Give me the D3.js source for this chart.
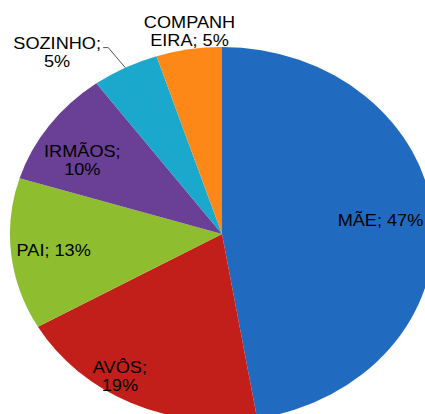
<!DOCTYPE html>
<meta charset="utf-8">
<script src="https://d3js.org/d3.v7.min.js"></script>
<style>
  body { margin: 0; background: #fff; }
  text { font-family: "Liberation Sans", Arial, sans-serif; font-size: 16px; fill: #000; }
</style>
<div id="chart"></div>
<script>
// slices, clockwise from 12 o'clock
var categories = ["MÃE", "AVÔS", "PAI", "IRMÃOS", "SOZINHO", "COMPANHEIRA"];
var values     = [47.4, 19.4, 13.1, 10.1, 5.1, 5.0];
var colors     = ["#206ac0", "#c21f1a", "#8ebe30", "#6a4096", "#1aa8cc", "#fd8817"];
// where each label wraps (character index, 0 = one line)
var wrapAt     = [0, 5, 0, 7, 8, 7];

var width = 425, height = 414;
var cx = 222, cy = 234;
var R = 187, stretch = 1.134;   // chart is drawn a bit wider than tall

var svg = d3.select("#chart").append("svg")
    .attr("width", width)
    .attr("height", height);

var g = svg.append("g")
    .attr("transform", "translate(" + cx + "," + cy + ") scale(" + stretch + ",1)");

var total = d3.sum(values);
var data = categories.map(function(c, i) {
  return { name: c, value: values[i], color: colors[i], wrap: wrapAt[i] };
});

var pie = d3.pie().sort(null).value(function(d) { return d.value; });
var arcs = pie(data);

var arc = d3.arc().innerRadius(0).outerRadius(R);

g.selectAll("path.slice")
  .data(arcs)
  .enter()
  .append("path")
    .attr("class", "slice")
    .attr("d", arc)
    .attr("fill", function(d) { return d.data.color; });

// labels: inside ones sit at 0.75R, the two small ones outside the pie
var inside = [true, true, true, true, false, false];
var nudge = [[0, -2], [-30, 15], [-9, 1], [-9, 7], [-50, 4], [4, 3]];

function midAngle(d) { return (d.startAngle + d.endAngle) / 2; }
function polar(a, r) { return [Math.sin(a) * r, -Math.cos(a) * r]; }

arcs.forEach(function(d, i) {
  var a = midAngle(d);
  var r = inside[i] ? R * 0.75 : R + 22;
  var p = polar(a, r);
  var x = p[0] + nudge[i][0], y = p[1] + nudge[i][1];

  var full = d.data.name + "; " + Math.round(d.data.value / total * 100) + "%";
  var lines = d.data.wrap ? [full.slice(0, d.data.wrap), full.slice(d.data.wrap).trim()] : [full];

  var t = g.append("text")
    .attr("text-anchor", "middle")
    .attr("x", x)
    .attr("y", y - (lines.length - 1) * 9 + 6);
  lines.forEach(function(l, k) {
    t.append("tspan")
      .attr("x", x)
      .attr("dy", k === 0 ? 0 : 18)
      .text(l);
  });

  // leader line for SOZINHO
  if (d.data.name === "SOZINHO") {
    var edge = polar(a, R);
    var knee = [edge[0] - 15, edge[1] - 20];
    g.append("polyline")
      .attr("points", [edge, knee, [knee[0] - 4.5, knee[1]]].map(function(q) { return q.join(","); }).join(" "))
      .attr("fill", "none")
      .attr("stroke", "#555")
      .attr("stroke-width", 1)
      .attr("vector-effect", "non-scaling-stroke");
  }
});
</script>
